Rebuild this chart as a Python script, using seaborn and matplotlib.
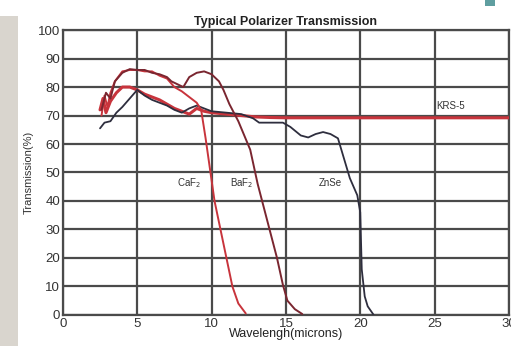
import matplotlib
matplotlib.use("Agg")
import matplotlib.pyplot as plt
import seaborn as sns
import pandas as pd
from matplotlib.patches import Rectangle

# Transmission curves (wavelength in microns, transmission in %)
caf2_wl = [2.6, 2.8, 3.0, 3.2, 3.5, 4.0, 4.5, 5.0, 5.5, 6.0, 6.5, 7.0, 7.5, 8.0, 8.5, 9.0,
           9.3, 9.6, 9.9, 10.2, 10.6, 11.0, 11.4, 11.8, 12.3]
caf2_t = [70, 77, 73, 78, 82, 85.5, 86, 86, 85.5, 85.5, 84, 83, 80, 78.5, 76.5, 74.5,
          72, 62, 51, 40, 30, 20, 10, 4, 0.5]

baf2_wl = [2.6, 2.9, 3.2, 3.5, 4.0, 4.5, 5.0, 5.5, 6.0, 6.5, 7.0, 7.3, 7.7, 8.1, 8.5, 9.0,
           9.5, 10.0, 10.5, 10.8, 11.2, 11.8, 12.6, 13.1, 13.9, 14.4, 14.8, 15.1, 15.6, 16.1]
baf2_t = [72, 78, 76, 82, 85, 86.3, 86, 86, 85, 84.5, 83.5, 82, 81, 80, 83.5, 85,
          85.5, 84.5, 82, 79, 74, 68, 58, 46, 30, 20, 10.5, 5, 2, 0.3]

krs5_wl = [2.5, 2.7, 2.9, 3.2, 3.6, 4.0, 4.5, 5.0, 5.5, 6.0, 6.5, 7.0, 7.5, 8.0, 8.5, 9.0,
           9.5, 10.0, 11.0, 12.0, 13.0, 14.0, 15.0, 20.0, 30.0]
krs5_t = [72, 76, 71, 75, 78, 80, 80, 79, 77.5, 76.5, 75.5, 74, 72.5, 71.5, 70.5, 72.5,
          71.5, 71, 70.5, 70, 69.5, 69.3, 69.2, 69.2, 69.2]

znse_wl = [2.5, 2.8, 3.2, 3.6, 4.0, 4.5, 5.0, 5.5, 6.0, 6.5, 7.0, 7.5, 8.0, 8.5, 9.0, 9.5,
           10.0, 11.0, 12.0, 12.8, 13.2, 14.8, 15.3, 16.0, 16.5, 17.0, 17.5, 18.0, 18.5,
           18.9, 19.3, 19.8, 20.0, 20.1, 20.3, 20.5, 20.9]
znse_t = [65.5, 67.5, 68, 71, 73, 76, 79, 77, 75.5, 74.5, 73.5, 72, 71, 72.5, 73.5, 72.5,
          71.5, 71, 70.5, 69, 67.5, 67.5, 66, 63, 62.3, 63.5, 64.2, 63.5, 62,
          55, 48, 42, 36, 16, 6.5, 3, 0]

x_ticks = [0, 5, 10, 15, 20, 25, 30]
y_ticks = [0, 10, 20, 30, 40, 50, 60, 70, 80, 90, 100]

sns.set_style("white")
plt.rcParams["font.family"] = ["Liberation Sans", "DejaVu Sans"]

fig = plt.figure(figsize=(5.11, 3.46), dpi=100)
fig.patch.set_facecolor("white")
# side panel and corner accent
fig.patches.append(Rectangle((0, 0), 0.035, 0.955, transform=fig.transFigure,
                             facecolor="#d9d5ce", edgecolor="none", zorder=0))
fig.patches.append(Rectangle((0.949, 0.983), 0.02, 0.017, transform=fig.transFigure,
                             facecolor="#5f9ea0", edgecolor="none", zorder=0))

ax = fig.add_axes([0.123, 0.090, 0.873, 0.823])
ax.set_facecolor("white")

grid_col = "#4a4a4a"
for v in x_ticks:
    ax.axvline(v, color=grid_col, lw=1.6, zorder=1)
for v in y_ticks:
    ax.axhline(v, color=grid_col, lw=1.6, zorder=1)

red = "#c8343c"
dark_red = "#7a2630"
navy = "#2e2e3e"

curves = [
    ("KRS-5", krs5_wl, krs5_t, red, 2.2),
    ("ZnSe", znse_wl, znse_t, navy, 1.3),
    ("CaF2", caf2_wl, caf2_t, red, 1.4),
    ("BaF2", baf2_wl, baf2_t, dark_red, 1.4),
]
for name, wl, t, col, lw in curves:
    df = pd.DataFrame({"wl": wl, "t": t})
    sns.lineplot(data=df, x="wl", y="t", ax=ax, color=col, lw=lw, sort=False,
                 estimator=None, zorder=3)

ax.set_xlim(0, 30)
ax.set_ylim(0, 100)
ax.set_xticks(x_ticks)
ax.set_yticks(y_ticks)
ax.tick_params(axis="both", length=0, labelsize=9.5, colors="#333333", pad=2)
for s in ax.spines.values():
    s.set_color(grid_col)
    s.set_linewidth(1.6)

ax.set_title("Typical Polarizer Transmission", fontsize=9, fontweight="bold",
             color="#222222", pad=4, x=0.50)
ax.set_xlabel("Wavelengh(microns)", fontsize=9, color="#222222", labelpad=-1)
ax.set_ylabel("Transmission(%)", fontsize=8, color="#333333", labelpad=3)

lab_kw = dict(fontsize=7, color="#333333", ha="center", va="center", zorder=4)
ax.text(26.1, 73.5, "KRS-5", **lab_kw)
ax.text(8.5, 46.3, "CaF$_2$", **lab_kw)
ax.text(12.0, 46.3, "BaF$_2$", **lab_kw)
ax.text(18.0, 46.3, "ZnSe", **lab_kw)

fig.savefig("out.png", dpi=100)
